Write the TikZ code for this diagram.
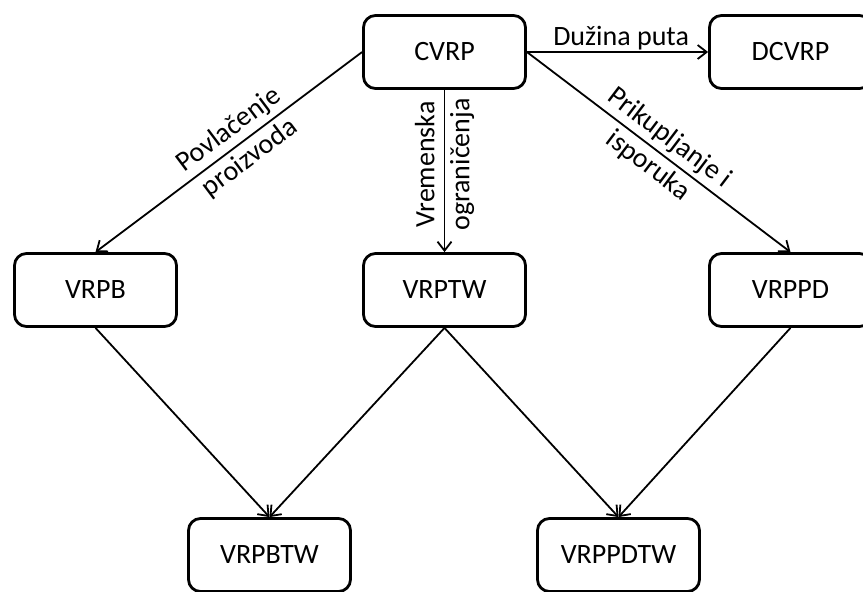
\documentclass[tikz,border=0pt]{standalone}
\usepackage{fontspec}
\setmainfont{Carlito}
\usetikzlibrary{arrows.meta}
\begin{document}
\begin{tikzpicture}[x=1pt,y=-1pt,
  font=\fontsize{28}{35}\selectfont,
  model/.style={draw, line width=2.8pt, rounded corners=12pt,
    minimum width=162pt, minimum height=73pt, inner sep=0pt},
  link/.style={line width=1.8pt, -{Straight Barb[length=9pt,width=14pt,line width=1.8pt]}},
  tag/.style={inner sep=1pt, align=center}]
\clip (0,0) rectangle (863,592);
\fill[white] (0,0) rectangle (863,592);

% problem variants
\node[model] (cvrp)    at (444.5,52)  {CVRP};
\node[model] (dcvrp)   at (790.5,52)  {DCVRP};
\node[model] (vrpb)    at (95.5,290)  {VRPB};
\node[model] (vrptw)   at (444.5,290) {VRPTW};
\node[model] (vrppd)   at (790.5,290) {VRPPD};
\node[model] (vrpbtw)  at (269.5,555) {VRPBTW};
\node[model] (vrppdtw) at (618.5,555) {VRPPDTW};

% extensions of CVRP
\draw[link] (cvrp.east) -- node[tag, above, pos=0.52] {Dužina puta} (dcvrp.west);
\draw[link] (cvrp.west) -- node[tag, sloped, pos=0.46] {Povlačenje\\proizvoda} (vrpb.north);
\draw[link] (cvrp.south) -- node[tag, rotate=90, pos=0.46] {Vremenska\\ograničenja} (vrptw.north);
\draw[link] (cvrp.east) -- node[tag, sloped, pos=0.5] {Prikupljanje i\\isporuka} (vrppd.north);

% combined variants
\draw[link] (vrpb.south)  -- (vrpbtw.north);
\draw[link] (vrptw.south) -- (vrpbtw.north);
\draw[link] (vrptw.south) -- (vrppdtw.north);
\draw[link] (vrppd.south) -- (vrppdtw.north);
\end{tikzpicture}
\end{document}
